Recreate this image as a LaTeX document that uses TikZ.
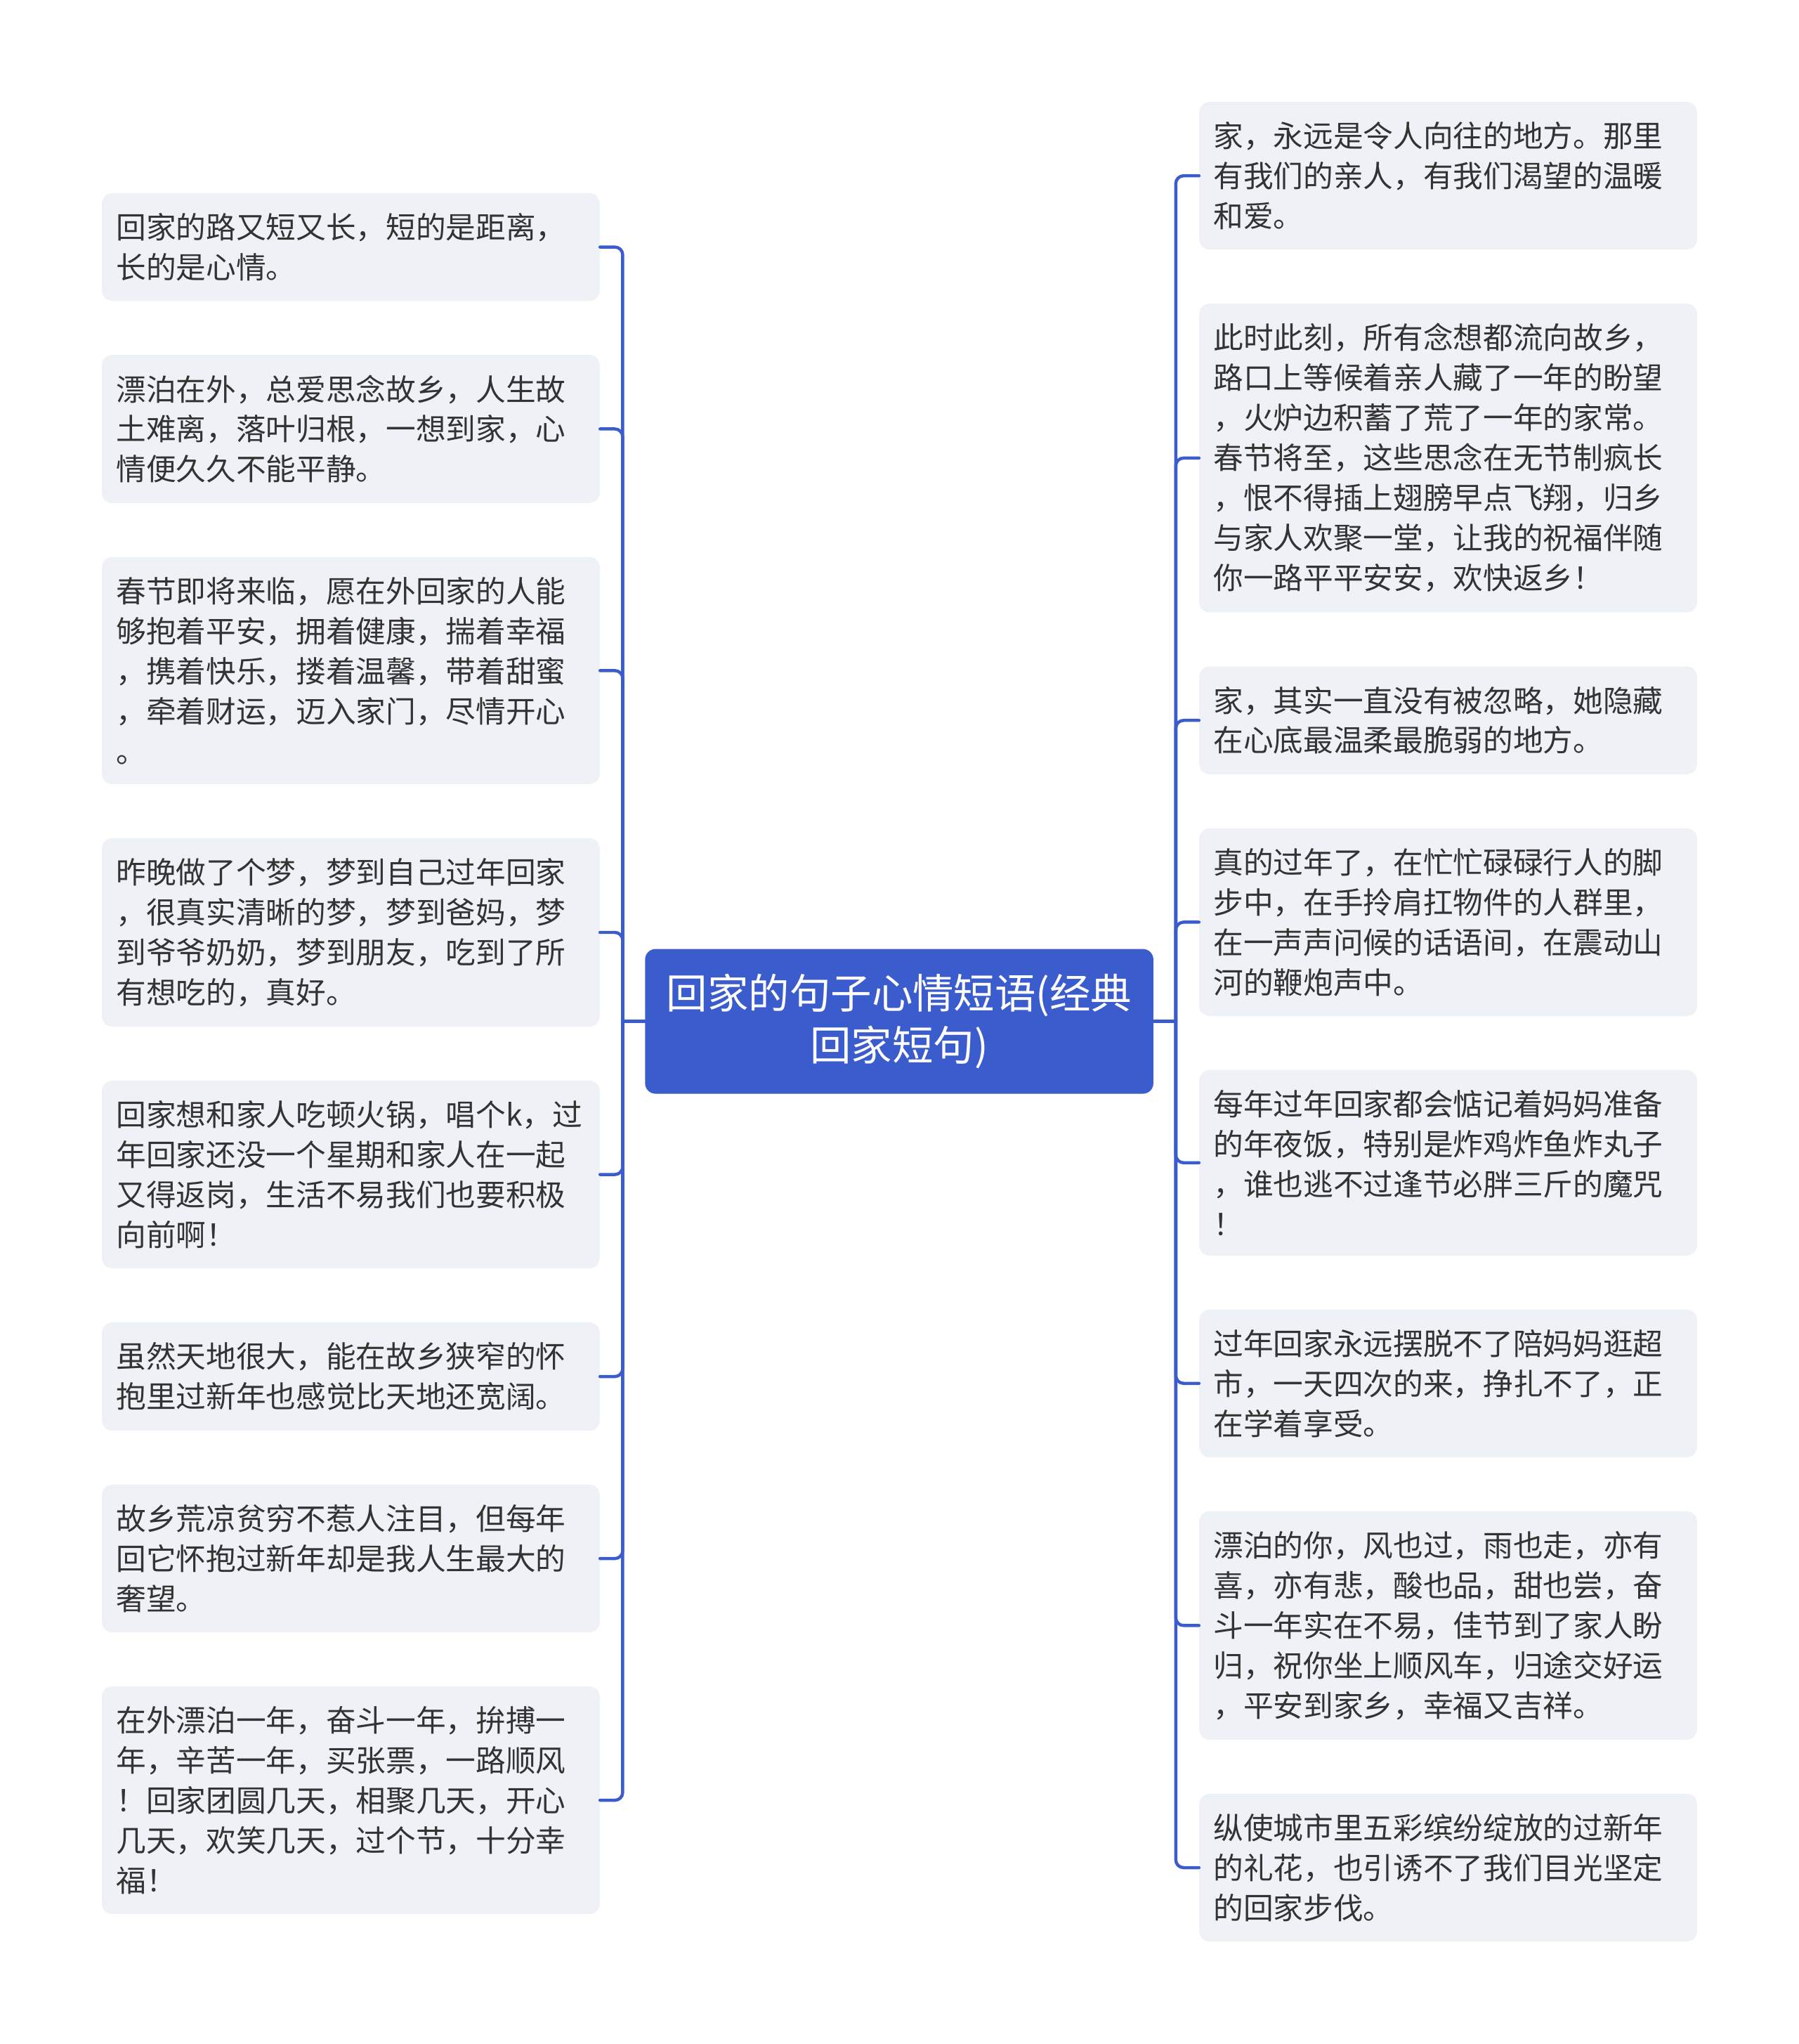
\documentclass[tikz,border=0pt]{standalone}
\usepackage{fontspec}
\setmainfont{Noto Sans CJK SC}
\usetikzlibrary{positioning}
\definecolor{rootblue}{RGB}{59,92,204}
\definecolor{leafgrey}{RGB}{238,241,245}
\definecolor{inkgrey}{RGB}{51,51,51}

\begin{document}
\begin{tikzpicture}[x=1pt,y=-1pt,line cap=round,line join=round,
  node distance=41pt,
  leaf/.style={fill=leafgrey,rounded corners=8pt,text=inkgrey,align=left,
   text width=360pt,inner xsep=11pt,inner ysep=15.3pt,
   font=\fontsize{23}{30.7}\selectfont},
  root/.style={fill=rootblue,rounded corners=8pt,text=white,align=center,
   minimum width=390pt,minimum height=111pt,
   font=\fontsize{31.5}{40}\selectfont},
  link/.style={rootblue,line width=2.4pt,rounded corners=6pt}]
 \useasboundingbox (0,0) rectangle (1380,1568);
 \node[root] (root) at (690,783.5) {回家的句子心情短语(经典\\回家短句)};
 % left column
 \node[leaf,anchor=north west] (l1) at (78,148)
  {回家的路又短又长，短的是距离，\\长的是心情。};
 \node[leaf,below=of l1] (l2)
  {漂泊在外，总爱思念故乡，人生故\\土难离，落叶归根，一想到家，心\\情便久久不能平静。};
 \node[leaf,below=of l2] (l3)
  {春节即将来临，愿在外回家的人能\\够抱着平安，拥着健康，揣着幸福\\，携着快乐，搂着温馨，带着甜蜜\\，牵着财运，迈入家门，尽情开心\\。};
 \node[leaf,below=of l3] (l4)
  {昨晚做了个梦，梦到自己过年回家\\，很真实清晰的梦，梦到爸妈，梦\\到爷爷奶奶，梦到朋友，吃到了所\\有想吃的，真好。};
 \node[leaf,below=of l4] (l5)
  {回家想和家人吃顿火锅，唱个k，过\\年回家还没一个星期和家人在一起\\又得返岗，生活不易我们也要积极\\向前啊！};
 \node[leaf,below=of l5] (l6)
  {虽然天地很大，能在故乡狭窄的怀\\抱里过新年也感觉比天地还宽阔。};
 \node[leaf,below=of l6] (l7)
  {故乡荒凉贫穷不惹人注目，但每年\\回它怀抱过新年却是我人生最大的\\奢望。};
 \node[leaf,below=of l7] (l8)
  {在外漂泊一年，奋斗一年，拚搏一\\年，辛苦一年，买张票，一路顺风\\！回家团圆几天，相聚几天，开心\\几天，欢笑几天，过个节，十分幸\\福！};
 % right column
 \node[leaf,anchor=north west] (r1) at (920,78)
  {家，永远是令人向往的地方。那里\\有我们的亲人，有我们渴望的温暖\\和爱。};
 \node[leaf,below=of r1] (r2)
  {此时此刻，所有念想都流向故乡，\\路口上等候着亲人藏了一年的盼望\\，火炉边积蓄了荒了一年的家常。\\春节将至，这些思念在无节制疯长\\，恨不得插上翅膀早点飞翔，归乡\\与家人欢聚一堂，让我的祝福伴随\\你一路平平安安，欢快返乡！};
 \node[leaf,below=of r2] (r3)
  {家，其实一直没有被忽略，她隐藏\\在心底最温柔最脆弱的地方。};
 \node[leaf,below=of r3] (r4)
  {真的过年了，在忙忙碌碌行人的脚\\步中，在手拎肩扛物件的人群里，\\在一声声问候的话语间，在震动山\\河的鞭炮声中。};
 \node[leaf,below=of r4] (r5)
  {每年过年回家都会惦记着妈妈准备\\的年夜饭，特别是炸鸡炸鱼炸丸子\\，谁也逃不过逢节必胖三斤的魔咒\\！};
 \node[leaf,below=of r5] (r6)
  {过年回家永远摆脱不了陪妈妈逛超\\市，一天四次的来，挣扎不了，正\\在学着享受。};
 \node[leaf,below=of r6] (r7)
  {漂泊的你，风也过，雨也走，亦有\\喜，亦有悲，酸也品，甜也尝，奋\\斗一年实在不易，佳节到了家人盼\\归，祝你坐上顺风车，归途交好运\\，平安到家乡，幸福又吉祥。};
 \node[leaf,below=of r7] (r8)
  {纵使城市里五彩缤纷绽放的过新年\\的礼花，也引诱不了我们目光坚定\\的回家步伐。};
 % connectors
 \coordinate[left=17pt of root.west] (ltrunk);
 \coordinate[right=17pt of root.east] (rtrunk);
 \draw[link] (root.west) -- (ltrunk);
 \draw[link] (root.east) -- (rtrunk);
 \foreach \i in {1,...,8}{
  \draw[link] (ltrunk) |- (l\i.east);
  \draw[link] (rtrunk) |- (r\i.west);
 }
\end{tikzpicture}
\end{document}
